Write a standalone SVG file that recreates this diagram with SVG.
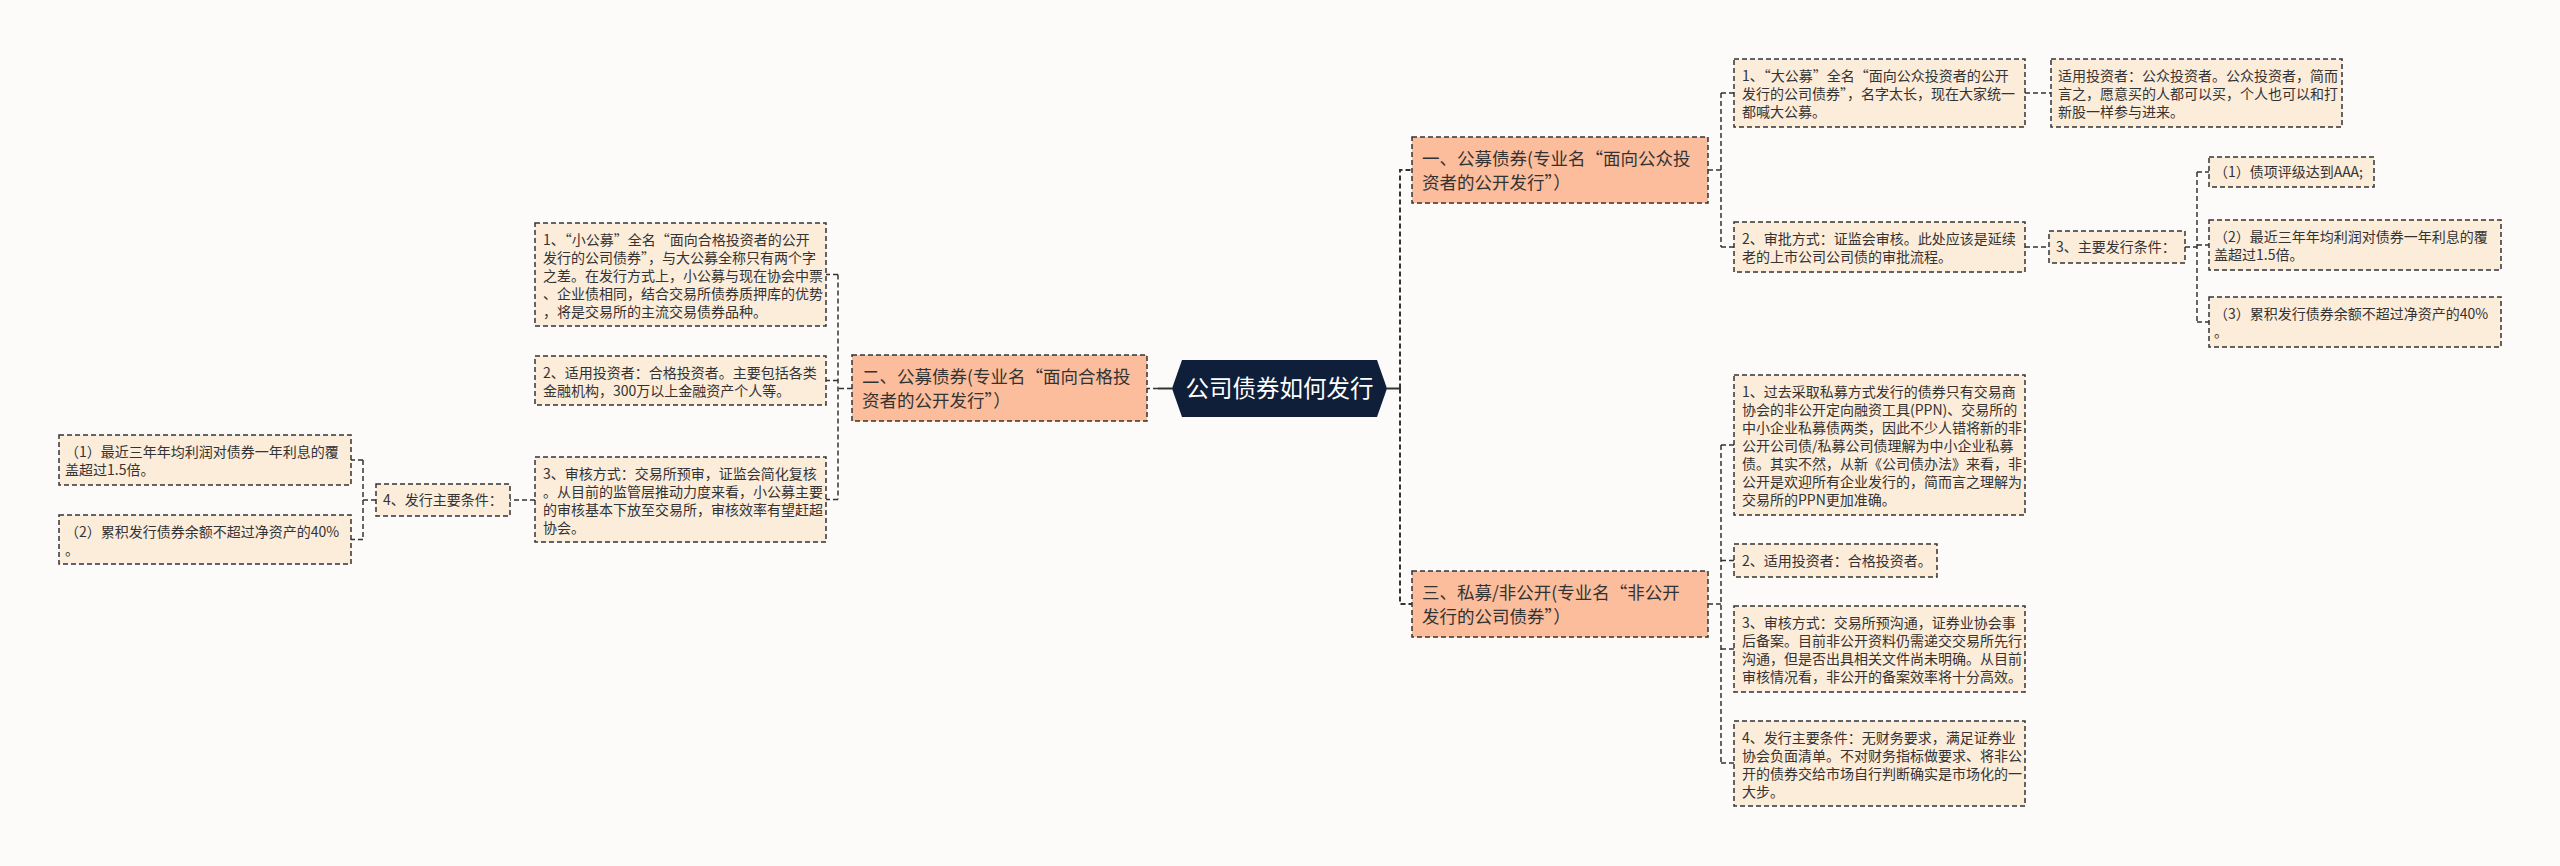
<svg xmlns="http://www.w3.org/2000/svg" width="2560" height="866" viewBox="0 0 2560 866">
<style>
text{font-family:"Noto Sans CJK SC","Noto Sans",sans-serif;fill:#333}
.q{font-feature-settings:"fwid"}
.leaf{fill:#FCECDA;stroke:#333;stroke-width:1.5;stroke-dasharray:5 3}
.main{fill:#FBBD9C;stroke:#333;stroke-width:1.5;stroke-dasharray:5 3}
.lt{font-size:14px}
.mt{font-size:17.5px}
.rt{font-size:23.5px;fill:#fff}
.c{fill:none;stroke:#333;stroke-width:1.5;stroke-dasharray:5 3}
.ct{fill:none;stroke:#333;stroke-width:2;stroke-dasharray:5 3}
.cs{fill:none;stroke:#333;stroke-width:2}
</style>
<rect width="2560" height="866" fill="#FDFBFA"/>
<g id="connectors">
<path class="cs" d="M1387 388.5H1400"/>
<path class="ct" d="M1400 388.5V170H1412M1400 388.5V604H1412"/>
<path class="cs" d="M1172 388.5H1158"/>
<path class="c" d="M1158 388.5H1147"/>
<path class="c" d="M1708 170H1721M1721 93V247M1721 93H1734M1721 247H1734"/>
<path class="c" d="M2025 93H2051"/>
<path class="c" d="M2025 247H2049"/>
<path class="c" d="M2185 247H2197M2197 172V322M2197 172H2209M2197 245H2209M2197 322H2209"/>
<path class="c" d="M1708 604H1721M1721 445V763M1721 445H1734M1721 560.5H1734M1721 649H1734M1721 763H1734"/>
<path class="c" d="M852 388.5H838M838 274.5V499.5M838 274.5H826M838 380.5H826M838 499.5H826"/>
<path class="c" d="M535 500H510"/>
<path class="c" d="M376 500H363M363 460V539.5M363 460H351M363 539.5H351"/>
</g>
<g id="root">
<polygon points="1172,388.5 1182,360 1377,360 1387,388.5 1377,417 1182,417" fill="#0F1F3A"/>
<text class="rt" x="1279.5" y="397" text-anchor="middle">公司债券如何发行</text>
</g>
<g id="n1">
<rect class="main" x="1412" y="137" width="296" height="66"/>
<text class="mt" x="1422" y="165">一、公募债券(专业名<tspan class="q">“</tspan>面向公众投</text>
<text class="mt" x="1422" y="188.5">资者的公开发行<tspan class="q">”</tspan>）</text>
</g>
<g id="n3">
<rect class="main" x="1412" y="571" width="296" height="66"/>
<text class="mt" x="1422" y="599">三、私募/非公开(专业名<tspan class="q">“</tspan>非公开</text>
<text class="mt" x="1422" y="622.5">发行的公司债券<tspan class="q">”</tspan>）</text>
</g>
<g id="n2">
<rect class="main" x="852" y="355" width="295" height="66"/>
<text class="mt" x="862" y="383">二、公募债券(专业名<tspan class="q">“</tspan>面向合格投</text>
<text class="mt" x="862" y="406.5">资者的公开发行<tspan class="q">”</tspan>）</text>
</g>
<g id="a1">
<rect class="leaf" x="1734" y="59" width="291" height="68"/>
<text class="lt" x="1742" y="81">1、<tspan class="q">“</tspan>大公募<tspan class="q">”</tspan>全名<tspan class="q">“</tspan>面向公众投资者的公开</text>
<text class="lt" x="1742" y="99">发行的公司债券<tspan class="q">”</tspan>，名字太长，现在大家统一</text>
<text class="lt" x="1742" y="117">都喊大公募。</text>
</g>
<g id="a1a">
<rect class="leaf" x="2051" y="59" width="291" height="68"/>
<text class="lt" x="2058" y="81">适用投资者：公众投资者。公众投资者，简而</text>
<text class="lt" x="2058" y="99">言之，愿意买的人都可以买，个人也可以和打</text>
<text class="lt" x="2058" y="117">新股一样参与进来。</text>
</g>
<g id="a2">
<rect class="leaf" x="1734" y="222" width="291" height="50"/>
<text class="lt" x="1742" y="244">2、审批方式：证监会审核。此处应该是延续</text>
<text class="lt" x="1742" y="262">老的上市公司公司债的审批流程。</text>
</g>
<g id="a2a">
<rect class="leaf" x="2049" y="231" width="136" height="32"/>
<text class="lt" x="2056" y="252">3、主要发行条件：</text>
</g>
<g id="a2a1">
<rect class="leaf" x="2209" y="157" width="165" height="30"/>
<text class="lt" x="2214" y="177">（1）债项评级达到AAA;</text>
</g>
<g id="a2a2">
<rect class="leaf" x="2209" y="220" width="292" height="50"/>
<text class="lt" x="2214" y="242">（2）最近三年年均利润对债券一年利息的覆</text>
<text class="lt" x="2214" y="260">盖超过1.5倍。</text>
</g>
<g id="a2a3">
<rect class="leaf" x="2209" y="297" width="292" height="50"/>
<text class="lt" x="2214" y="319">（3）累积发行债券余额不超过净资产的40%</text>
<text class="lt" x="2214" y="337">。</text>
</g>
<g id="c1">
<rect class="leaf" x="1734" y="375" width="291" height="140"/>
<text class="lt" x="1742" y="397">1、过去采取私募方式发行的债券只有交易商</text>
<text class="lt" x="1742" y="415">协会的非公开定向融资工具(PPN)、交易所的</text>
<text class="lt" x="1742" y="433">中小企业私募债两类，因此不少人错将新的非</text>
<text class="lt" x="1742" y="451">公开公司债/私募公司债理解为中小企业私募</text>
<text class="lt" x="1742" y="469">债。其实不然，从新《公司债办法》来看，非</text>
<text class="lt" x="1742" y="487">公开是欢迎所有企业发行的，简而言之理解为</text>
<text class="lt" x="1742" y="505">交易所的PPN更加准确。</text>
</g>
<g id="c2">
<rect class="leaf" x="1734" y="544" width="203" height="33"/>
<text class="lt" x="1742" y="566">2、适用投资者：合格投资者。</text>
</g>
<g id="c3">
<rect class="leaf" x="1734" y="606" width="291" height="86"/>
<text class="lt" x="1742" y="628">3、审核方式：交易所预沟通，证券业协会事</text>
<text class="lt" x="1742" y="646">后备案。目前非公开资料仍需递交交易所先行</text>
<text class="lt" x="1742" y="664">沟通，但是否出具相关文件尚未明确。从目前</text>
<text class="lt" x="1742" y="682">审核情况看，非公开的备案效率将十分高效。</text>
</g>
<g id="c4">
<rect class="leaf" x="1734" y="721" width="291" height="85"/>
<text class="lt" x="1742" y="743">4、发行主要条件：无财务要求，满足证券业</text>
<text class="lt" x="1742" y="761">协会负面清单。不对财务指标做要求、将非公</text>
<text class="lt" x="1742" y="779">开的债券交给市场自行判断确实是市场化的一</text>
<text class="lt" x="1742" y="797">大步。</text>
</g>
<g id="b1">
<rect class="leaf" x="535" y="223" width="291" height="103"/>
<text class="lt" x="543" y="245">1、<tspan class="q">“</tspan>小公募<tspan class="q">”</tspan>全名<tspan class="q">“</tspan>面向合格投资者的公开</text>
<text class="lt" x="543" y="263">发行的公司债券<tspan class="q">”</tspan>，与大公募全称只有两个字</text>
<text class="lt" x="543" y="281">之差。在发行方式上，小公募与现在协会中票</text>
<text class="lt" x="543" y="299">、企业债相同，结合交易所债券质押库的优势</text>
<text class="lt" x="543" y="317">，将是交易所的主流交易债券品种。</text>
</g>
<g id="b2">
<rect class="leaf" x="535" y="356" width="291" height="49"/>
<text class="lt" x="543" y="378">2、适用投资者：合格投资者。主要包括各类</text>
<text class="lt" x="543" y="396">金融机构，300万以上金融资产个人等。</text>
</g>
<g id="b3">
<rect class="leaf" x="535" y="457" width="291" height="85"/>
<text class="lt" x="543" y="479">3、审核方式：交易所预审，证监会简化复核</text>
<text class="lt" x="543" y="497">。从目前的监管层推动力度来看，小公募主要</text>
<text class="lt" x="543" y="515">的审核基本下放至交易所，审核效率有望赶超</text>
<text class="lt" x="543" y="533">协会。</text>
</g>
<g id="b3a">
<rect class="leaf" x="376" y="484" width="134" height="32"/>
<text class="lt" x="383" y="505">4、发行主要条件：</text>
</g>
<g id="b3a1">
<rect class="leaf" x="59" y="435" width="292" height="50"/>
<text class="lt" x="65" y="457">（1）最近三年年均利润对债券一年利息的覆</text>
<text class="lt" x="65" y="475">盖超过1.5倍。</text>
</g>
<g id="b3a2">
<rect class="leaf" x="59" y="515" width="292" height="49"/>
<text class="lt" x="65" y="537">（2）累积发行债券余额不超过净资产的40%</text>
<text class="lt" x="65" y="555">。</text>
</g>
</svg>
